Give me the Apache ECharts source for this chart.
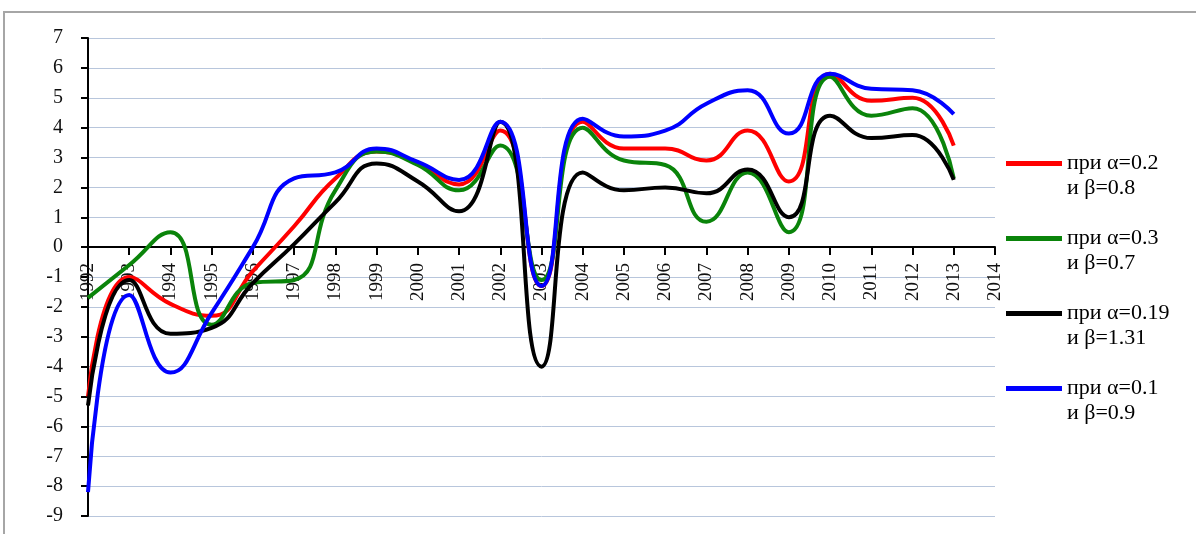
<!DOCTYPE html>
<html>
<head>
<meta charset="utf-8">
<script src="https://cdn.jsdelivr.net/npm/echarts@6/dist/echarts.min.js"></script>
<style>
  html, body { margin: 0; padding: 0; background: #fff; }
  #charts { width: 1196px; height: 534px; }
</style>
</head>
<body>
<div id="charts"></div>
<script>
  const years = ['1992', '1993', '1994', '1995', '1996', '1997', '1998', '1999', '2000', '2001', '2002',
    '2003', '2004', '2005', '2006', '2007', '2008', '2009', '2010', '2011', '2012', '2013', '2014']

  const seriesNames = [
    'при α=0.2\nи β=0.8',
    'при α=0.3\nи β=0.7',
    'при α=0.19\nи β=1.31',
    'при α=0.1\nи β=0.9'
  ]

  const redVals = [-5.0, -1.0, -1.9, -2.3, -0.8, 0.7, 2.3, 3.2, 2.8, 2.1, 3.9,
    -1.3, 4.2, 3.3, 3.3, 2.9, 3.9, 2.2, 5.8, 4.9, 5.0, 3.4]
  const greenVals = [-1.7, -0.6, 0.5, -2.6, -1.2, -1.1, 1.9, 3.2, 2.75, 1.9, 3.4,
    -1.1, 4.0, 2.9, 2.75, 0.85, 2.5, 0.5, 5.7, 4.4, 4.65, 2.3]
  const blackVals = [-5.3, -1.1, -2.9, -2.7, -1.2, 0.1, 1.5, 2.8, 2.2, 1.2, 4.2,
    -4.0, 2.5, 1.9, 2.0, 1.8, 2.6, 1.0, 4.4, 3.65, 3.75, 2.25]
  const blueVals = [-8.2, -1.6, -4.2, -2.2, 0.0, 2.3, 2.5, 3.3, 2.85, 2.25, 4.2,
    -1.3, 4.3, 3.7, 3.9, 4.8, 5.25, 3.8, 5.8, 5.3, 5.25, 4.45]

  const colors = ['#ff0000', '#0a840a', '#000000', '#0000ff']
  const serif = 'Liberation Serif'

  // область построения: 7 -> y=38, -9 -> y=516, значит ноль на ~247
  const gridTop = 38
  const gridBottom = 18
  const yMin = -9
  const yMax = 7
  const plotH = 534 - gridTop - gridBottom
  const zeroOffset = -Math.round(plotH * (0 - yMin) / (yMax - yMin))

  const chart = echarts.init(document.getElementById('charts'))

  const lines = [redVals, greenVals, blackVals, blueVals].map((vals, i) => {
    return {
      name: seriesNames[i],
      type: 'line',
      data: vals,
      smooth: 0.5,
      showSymbol: false,
      symbol: 'none',
      lineStyle: { width: 4, color: colors[i] },
      itemStyle: { color: colors[i] },
      z: 3 + i
    }
  })

  const option = {
    animation: false,
    backgroundColor: '#fff',
    grid: {
      left: 88,
      right: 201,
      top: gridTop,
      bottom: gridBottom,
      containLabel: false,
      outerBoundsMode: 'none'
    },
    // рамка вокруг области диаграммы
    graphic: [{
      type: 'rect',
      shape: { x: 4, y: 12, width: 1400, height: 800 },
      style: { fill: 'none', stroke: '#a6a6a6', lineWidth: 2 },
      silent: true,
      z: -1
    }],
    legend: {
      orient: 'vertical',
      left: 1001,
      top: 121,
      itemGap: 0,
      itemWidth: 56,
      itemHeight: 5,
      icon: 'rect',
      data: seriesNames,
      formatter: name => '\n' + name,
      textStyle: {
        fontFamily: serif,
        fontSize: 22,
        lineHeight: 25,
        color: '#000'
      }
    },
    xAxis: {
      type: 'category',
      data: years,
      boundaryGap: false,
      // ось X проходит через ноль
      offset: zeroOffset,
      axisLine: {
        onZero: false,
        lineStyle: { color: '#000', width: 2 }
      },
      axisTick: {
        show: true,
        length: 8,
        interval: 0,
        lineStyle: { color: '#000', width: 2 }
      },
      axisLabel: {
        rotate: 90,
        interval: 0,
        margin: 16,
        fontFamily: serif,
        fontSize: 19,
        color: '#111'
      },
      splitLine: { show: false }
    },
    yAxis: {
      type: 'value',
      min: yMin,
      max: yMax,
      interval: 1,
      axisLine: {
        show: true,
        lineStyle: { color: '#000', width: 2 }
      },
      axisTick: {
        show: true,
        length: 7,
        lineStyle: { color: '#000', width: 2 }
      },
      axisLabel: {
        margin: 25,
        fontFamily: serif,
        fontSize: 20,
        color: '#111'
      },
      splitLine: {
        lineStyle: { color: '#b8c6dc', width: 1 }
      }
    },
    series: lines
  }

  chart.setOption(option, true)

  window.addEventListener('resize', () => {
    chart.resize()
  })
</script>
</body>
</html>
